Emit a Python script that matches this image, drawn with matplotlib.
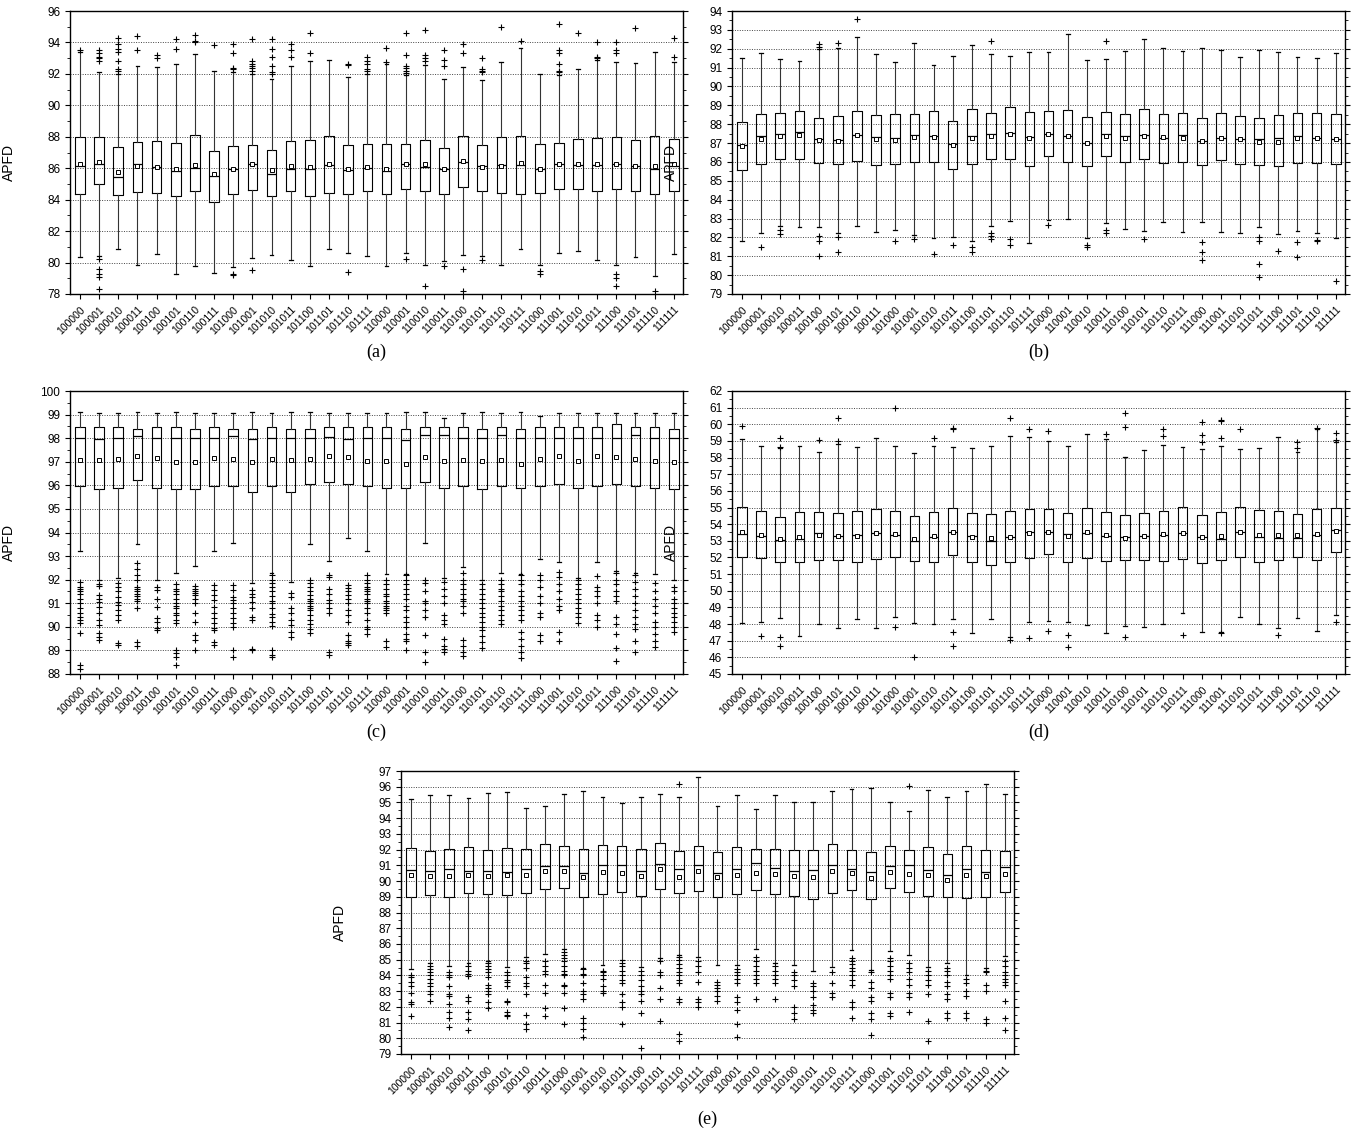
import matplotlib
matplotlib.use('Agg')
import matplotlib.pyplot as plt
from matplotlib.ticker import MultipleLocator

plt.rcParams['font.family'] = ['Liberation Sans', 'DejaVu Sans']

labels = ['100000', '100001', '100010', '100011', '100100', '100101', '100110', '100111',
          '101000', '101001', '101010', '101011', '101100', '101101', '101110', '101111',
          '110000', '110001', '110010', '110011', '110100', '110101', '110110', '110111',
          '111000', '111001', '111010', '111011', '111100', '111101', '111110', '111111']

# ---- panel (a)
a_q1 = [84.39, 84.97, 84.3, 84.47, 84.41, 84.22, 84.54, 83.83, 84.34, 84.6, 84.22, 84.56, 84.26, 84.43, 84.37, 84.56,
        84.35, 84.71, 84.54, 84.35, 84.8, 84.58, 84.42, 84.37, 84.44, 84.71, 84.65, 84.58, 84.71, 84.52, 84.37, 84.56]
a_med = [86.17, 86.3, 85.45, 86.26, 86.07, 85.81, 86.0, 85.5, 85.96, 86.3, 85.62, 85.92, 85.92, 86.2, 85.88, 86.0,
         85.83, 86.24, 86.07, 85.92, 86.4, 86.17, 86.21, 86.19, 85.96, 86.28, 86.21, 86.19, 86.26, 86.15, 85.94, 86.17]
a_mean = [86.24, 86.4, 85.77, 86.17, 86.09, 85.92, 86.22, 85.62, 85.94, 86.28, 85.86, 86.15, 86.09, 86.26, 85.96, 86.05,
          85.92, 86.24, 86.24, 85.92, 86.45, 86.05, 86.17, 86.36, 85.96, 86.3, 86.24, 86.24, 86.24, 86.17, 86.13, 86.24]
a_q3 = [87.99, 88.0, 87.34, 87.66, 87.74, 87.6, 88.1, 87.1, 87.44, 87.49, 87.17, 87.7, 87.78, 88.04, 87.49, 87.53,
        87.57, 87.55, 87.82, 87.27, 88.06, 87.47, 87.99, 88.08, 87.53, 87.61, 87.85, 87.93, 87.99, 87.78, 88.06, 87.89]
a_lo = [80.37, 80.43, 80.86, 79.87, 80.52, 79.29, 79.76, 79.31, 79.72, 80.26, 80.49, 80.15, 79.81, 80.84, 80.6, 80.39,
        79.76, 80.6, 79.86, 80.12, 80.46, 80.39, 79.82, 80.86, 79.82, 80.6, 80.75, 80.14, 79.86, 80.33, 79.16, 80.56]
a_hi = [93.4, 92.1, 92.0, 92.5, 92.46, 92.6, 93.25, 92.2, 92.1, 92.0, 91.7, 92.5, 92.8, 92.9, 91.8, 92.0,
        92.6, 91.9, 92.55, 91.66, 92.46, 91.62, 92.78, 93.63, 92.0, 91.93, 92.29, 92.89, 92.78, 92.72, 93.42, 92.78]
a_out = [[93.5], [93.5, 93.3, 93.1, 93.0, 92.8, 80.25, 79.6, 79.3, 79.05, 78.3],
         [92.2, 92.3, 92.8, 93.4, 93.6, 93.9, 94.3], [93.5, 94.4], [93.0, 93.2], [93.6, 94.25],
         [94.0, 94.1, 94.5], [93.85], [92.3, 92.4, 93.3, 93.9, 79.3, 79.2],
         [92.2, 92.4, 92.5, 92.6, 92.8, 94.2, 79.55], [92.0, 92.1, 92.5, 93.1, 93.6, 94.2],
         [93.1, 93.5, 93.9], [93.3, 94.6], [], [92.55, 92.6, 79.4], [92.2, 92.3, 92.6, 92.8, 93.1],
         [92.75, 93.65], [92.05, 92.2, 92.35, 92.5, 93.2, 94.6, 80.2], [92.8, 93.0, 93.2, 94.8, 78.5],
         [92.5, 92.9, 93.5, 79.75], [93.3, 93.9, 79.6, 78.2], [92.1, 92.2, 92.3, 93.0, 80.15],
         [95.0], [94.1], [79.45, 79.25], [92.1, 92.2, 92.6, 93.3, 93.5, 95.15], [94.6],
         [93.0, 93.1, 94.05], [93.3, 93.5, 94.05, 79.25, 79.0, 78.5], [94.95], [78.2], [93.1, 94.3]]

# ---- panel (b)
b_q1 = [85.57, 85.88, 86.18, 86.18, 85.94, 85.9, 86.04, 85.83, 85.88, 85.97, 86.0, 85.62, 85.9, 86.18, 86.18, 85.8,
        86.32, 86.02, 85.8, 86.29, 86.0, 86.15, 85.94, 86.02, 85.83, 86.09, 85.88, 85.83, 85.76, 85.95, 85.94, 85.87]
b_med = [86.89, 87.38, 87.47, 87.58, 87.2, 87.14, 87.44, 87.31, 87.28, 87.44, 87.38, 86.96, 87.4, 87.47, 87.52, 87.31,
         87.49, 87.4, 86.99, 87.47, 87.37, 87.42, 87.26, 87.44, 87.1, 87.28, 87.19, 87.19, 87.26, 87.38, 87.28, 87.19]
b_mean = [86.82, 87.2, 87.35, 87.44, 87.17, 87.12, 87.44, 87.2, 87.17, 87.31, 87.31, 86.92, 87.28, 87.38, 87.49, 87.28,
          87.49, 87.4, 86.99, 87.4, 87.29, 87.38, 87.31, 87.29, 87.1, 87.28, 87.19, 87.08, 87.08, 87.26, 87.28, 87.19]
b_q3 = [88.12, 88.55, 88.59, 88.69, 88.32, 88.44, 88.69, 88.51, 88.55, 88.53, 88.69, 88.19, 88.8, 88.58, 88.9, 88.67,
        88.72, 88.76, 88.37, 88.67, 88.55, 88.8, 88.53, 88.57, 88.35, 88.57, 88.41, 88.34, 88.49, 88.57, 88.6, 88.53]
b_lo = [81.79, 82.23, 82.62, 82.57, 82.57, 82.23, 82.62, 82.27, 82.41, 82.14, 81.98, 82.02, 81.82, 82.6, 82.85, 81.7,
        82.94, 82.97, 81.95, 82.76, 82.44, 82.35, 82.79, 82.28, 82.79, 82.28, 82.23, 82.53, 82.18, 82.34, 82.21, 81.95]
b_hi = [91.53, 91.8, 91.46, 91.35, 92.0, 92.02, 92.6, 91.71, 91.32, 92.29, 91.14, 91.64, 92.18, 91.71, 91.62, 91.85,
        91.81, 92.76, 91.39, 91.46, 91.88, 92.52, 92.06, 91.9, 92.02, 91.94, 91.58, 91.94, 91.81, 91.58, 91.53, 91.76]
b_out = [[], [81.49], [82.4, 82.18], [], [92.1, 92.24, 82.05, 81.79, 81.0], [92.32, 82.02, 81.2], [93.56], [],
         [81.79], [81.91], [81.1], [81.61], [81.47, 81.2], [92.43, 82.23, 82.05, 81.91], [81.91, 81.58], [],
         [82.67], [], [81.61, 81.49], [92.43, 82.37, 82.23], [], [81.91], [], [],
         [81.77, 81.22, 80.78], [], [], [82.02, 81.81, 80.59, 79.9], [81.28], [81.75, 80.98], [81.88, 81.79], [79.67]]

# ---- panel (c)
c_q1 = [95.97, 95.83, 95.9, 96.23, 95.9, 95.83, 95.83, 95.97, 95.97, 95.73, 95.97, 95.73, 96.07, 96.14, 96.07, 95.97,
        95.9, 95.9, 96.14, 95.9, 95.97, 95.83, 95.97, 95.9, 95.97, 96.07, 95.9, 95.97, 96.07, 95.97, 95.9, 95.83]
c_med = [98.0, 97.98, 98.0, 98.1, 98.0, 98.0, 98.0, 98.0, 98.1, 97.95, 98.0, 98.0, 98.0, 98.06, 97.95, 98.0,
         98.0, 97.92, 98.12, 98.12, 98.0, 98.0, 98.12, 98.0, 98.0, 98.0, 98.0, 98.0, 98.0, 98.12, 98.0, 98.0]
c_mean = [97.06, 97.07, 97.12, 97.24, 97.15, 97.0, 96.99, 97.17, 97.12, 97.0, 97.12, 97.07, 97.12, 97.24, 97.19, 97.05,
          97.05, 96.9, 97.19, 97.05, 97.07, 97.05, 97.07, 96.9, 97.13, 97.24, 97.05, 97.26, 97.19, 97.1, 97.05, 97.0]
c_q3 = [98.47, 98.47, 98.47, 98.37, 98.47, 98.47, 98.39, 98.47, 98.39, 98.39, 98.47, 98.39, 98.39, 98.47, 98.47, 98.47,
        98.47, 98.39, 98.47, 98.47, 98.47, 98.39, 98.47, 98.39, 98.47, 98.47, 98.47, 98.47, 98.6, 98.47, 98.47, 98.39]
c_lo = [93.2, 92.0, 92.05, 93.5, 92.0, 92.3, 92.6, 93.2, 93.55, 91.85, 92.3, 91.9, 93.5, 92.8, 93.75, 93.2,
        92.24, 92.24, 93.57, 92.06, 92.55, 92.0, 92.3, 92.24, 92.86, 92.75, 92.06, 92.76, 92.35, 92.3, 92.24, 92.0]
c_hi = [99.1, 99.05, 99.05, 99.12, 99.05, 99.1, 99.05, 99.05, 99.05, 99.12, 99.05, 99.12, 99.12, 99.05, 99.05, 99.05,
        99.05, 99.12, 99.12, 98.87, 99.05, 99.12, 99.05, 99.12, 98.95, 99.05, 99.05, 99.05, 99.05, 99.05, 99.05, 99.05]
c_out = [[91.9, 91.7, 91.6, 91.5, 91.4, 91.2, 91.0, 90.8, 90.6, 90.4, 90.3, 90.15, 89.72, 88.38, 88.2],
         [91.82, 91.75, 91.35, 91.2, 91.07, 90.86, 90.57, 90.29, 90.08, 89.72, 89.58, 89.44],
         [91.87, 91.7, 91.5, 91.28, 91.07, 90.93, 90.71, 90.5, 90.29, 89.3, 89.23],
         [92.7, 92.45, 92.2, 92.0, 91.7, 91.6, 91.5, 91.4, 91.3, 91.2, 91.1, 90.8, 89.35, 89.2],
         [91.7, 91.56, 91.2, 90.86, 90.36, 90.22, 89.94, 89.87],
         [91.8, 91.6, 91.5, 91.4, 91.2, 91.0, 90.9, 90.8, 90.6, 90.5, 90.3, 90.15, 89.0, 88.9, 88.7, 88.4],
         [91.75, 91.6, 91.5, 91.45, 91.35, 91.2, 91.0, 90.6, 90.2, 89.65, 89.45, 89.0],
         [91.77, 91.56, 91.35, 91.14, 90.86, 90.57, 90.36, 90.15, 89.94, 89.86, 89.37, 89.23],
         [91.77, 91.56, 91.28, 91.14, 91.0, 90.78, 90.57, 90.36, 90.15, 90.0, 89.02, 88.7],
         [91.56, 91.4, 91.28, 91.07, 90.78, 90.43, 90.29, 89.08, 89.0],
         [92.2, 92.0, 91.85, 91.7, 91.5, 91.3, 91.1, 91.0, 90.8, 90.55, 90.4, 90.2, 90.05, 89.0, 88.8, 88.7],
         [91.42, 91.28, 90.78, 90.57, 90.29, 90.08, 89.8, 89.58],
         [92.0, 91.85, 91.7, 91.5, 91.35, 91.2, 91.1, 91.0, 90.9, 90.8, 90.7, 90.5, 90.3, 90.1, 89.9, 89.75],
         [92.2, 92.1, 91.6, 91.4, 91.14, 91.0, 90.78, 90.57, 88.95, 88.8],
         [91.77, 91.65, 91.5, 91.35, 91.2, 91.0, 90.7, 90.5, 90.2, 89.65, 89.4, 89.3, 89.25],
         [92.2, 92.0, 91.85, 91.7, 91.6, 91.5, 91.4, 91.2, 91.1, 91.0, 90.8, 90.6, 90.3, 90.0, 89.9, 89.7],
         [92.0, 91.8, 91.6, 91.4, 91.3, 91.1, 91.0, 90.9, 90.8, 90.7, 90.6, 89.4, 89.13],
         [92.2, 92.0, 91.8, 91.6, 91.4, 91.2, 90.9, 90.7, 90.4, 90.2, 90.0, 89.7, 89.5, 89.4, 89.0],
         [91.99, 91.85, 91.5, 91.1, 91.0, 90.7, 90.4, 89.65, 88.95, 88.5],
         [91.9, 91.6, 91.3, 91.0, 90.5, 90.3, 90.1, 89.5, 89.2, 89.05, 88.95],
         [92.27, 92.0, 91.8, 91.6, 91.4, 91.2, 91.1, 90.9, 90.57, 89.45, 89.2, 88.95, 88.75],
         [91.8, 91.6, 91.4, 91.2, 91.0, 90.8, 90.6, 90.4, 90.2, 90.0, 89.85, 89.6, 89.35, 89.1],
         [92.0, 91.8, 91.6, 91.5, 91.3, 91.1, 90.9, 90.7, 90.5, 90.3, 90.1],
         [92.2, 92.0, 91.8, 91.5, 91.3, 91.1, 90.9, 90.7, 90.5, 90.3, 89.8, 89.5, 89.2, 88.95, 88.67],
         [92.2, 92.0, 91.7, 91.3, 91.0, 90.6, 90.4, 89.65, 89.4],
         [92.34, 92.1, 91.8, 91.5, 91.2, 90.9, 90.7, 89.8, 89.4],
         [91.99, 91.8, 91.6, 91.4, 91.2, 91.0, 90.8, 90.6, 90.4, 90.15],
         [92.15, 91.7, 91.5, 91.3, 91.0, 90.5, 90.3, 90.0],
         [92.3, 92.0, 91.8, 91.5, 91.3, 91.1, 90.4, 90.1, 89.7, 89.1, 88.55],
         [92.2, 91.9, 91.6, 91.3, 91.0, 90.7, 90.4, 90.1, 89.9, 89.4, 88.95],
         [91.84, 91.5, 91.2, 90.9, 90.6, 90.2, 90.0, 89.7, 89.4, 89.16],
         [91.7, 91.5, 91.2, 91.0, 90.8, 90.6, 90.4, 90.2, 90.0, 89.8]]

# ---- panel (d)
d_q1 = [52.0, 51.95, 51.7, 51.75, 51.85, 51.85, 51.75, 51.9, 52.0, 51.8, 51.75, 52.15, 51.75, 51.55, 51.75, 51.95,
        52.19, 51.75, 51.95, 51.81, 51.83, 51.85, 51.77, 51.93, 51.65, 51.83, 52.05, 51.73, 51.85, 52.03, 51.83, 52.33]
d_med = [53.4, 53.3, 53.05, 53.1, 53.45, 53.3, 53.35, 53.45, 53.35, 53.0, 53.25, 53.55, 53.3, 53.0, 53.25, 53.5,
         53.55, 53.41, 53.49, 53.29, 53.21, 53.31, 53.33, 53.47, 53.21, 53.11, 53.53, 53.21, 53.17, 53.15, 53.33, 53.63]
d_mean = [53.5, 53.35, 53.1, 53.25, 53.35, 53.3, 53.3, 53.45, 53.4, 53.1, 53.3, 53.5, 53.25, 53.15, 53.25, 53.45,
          53.55, 53.31, 53.52, 53.33, 53.15, 53.31, 53.39, 53.49, 53.21, 53.29, 53.53, 53.33, 53.33, 53.33, 53.41, 53.61]
d_q3 = [55.05, 54.8, 54.45, 54.75, 54.75, 54.65, 54.8, 54.9, 54.8, 54.5, 54.75, 55.0, 54.7, 54.6, 54.8, 54.92,
        54.91, 54.65, 54.97, 54.75, 54.53, 54.65, 54.79, 55.03, 54.53, 54.71, 55.01, 54.83, 54.77, 54.61, 54.93, 54.97]
d_lo = [48.05, 48.1, 48.35, 47.3, 48.0, 47.75, 48.3, 47.75, 48.45, 48.05, 48.0, 48.3, 47.45, 48.3, 47.2, 48.15,
        48.2, 48.1, 47.94, 47.48, 47.88, 47.84, 47.98, 48.68, 47.52, 47.5, 48.4, 48.0, 47.78, 48.38, 47.6, 48.54]
d_hi = [59.1, 58.7, 58.6, 58.7, 58.35, 58.8, 58.65, 59.2, 58.7, 58.3, 58.7, 58.65, 58.6, 58.7, 59.3, 59.26,
        59.0, 58.7, 59.4, 59.1, 58.06, 58.46, 58.76, 58.62, 58.52, 58.72, 58.54, 58.6, 59.26, 58.35, 59.7, 58.94]
d_out = [[59.9], [47.3], [59.15, 58.65, 47.2, 46.7], [], [59.05], [59.0, 60.4], [], [],
         [61.0, 47.8], [46.0], [59.2], [59.7, 59.75, 47.5, 46.7], [], [], [60.4, 47.05], [59.7, 47.15],
         [59.6, 47.6], [47.32, 46.64], [], [59.4], [59.82, 60.66, 47.2], [], [59.3, 59.7], [47.32],
         [58.94, 59.34, 60.14], [59.16, 60.2, 60.25, 47.45], [59.7], [], [47.34], [58.6, 58.96], [59.8],
         [59.06, 59.46, 48.1]]

# ---- panel (e)
e_q1 = [89.0, 89.09, 89.0, 89.22, 89.15, 89.09, 89.24, 89.49, 89.58, 89.0, 89.2, 89.3, 89.03, 89.47, 89.24, 89.36,
        88.96, 89.15, 89.41, 89.15, 89.05, 88.86, 89.26, 89.45, 88.86, 89.58, 89.32, 89.07, 88.96, 88.9, 89.0, 89.3]
e_med = [90.7, 90.65, 90.78, 90.63, 90.65, 90.55, 90.74, 90.97, 90.97, 90.49, 91.01, 91.01, 90.63, 91.06, 90.74, 91.01,
         90.51, 90.78, 91.12, 90.8, 90.63, 90.7, 91.01, 90.74, 90.57, 90.93, 90.99, 90.7, 90.38, 90.74, 90.55, 90.87]
e_mean = [90.4, 90.3, 90.3, 90.4, 90.32, 90.4, 90.4, 90.61, 90.61, 90.23, 90.55, 90.5, 90.32, 90.78, 90.28, 90.61,
          90.25, 90.36, 90.53, 90.44, 90.32, 90.25, 90.61, 90.53, 90.19, 90.59, 90.42, 90.4, 90.08, 90.4, 90.34, 90.42]
e_q3 = [92.11, 91.94, 92.03, 92.18, 91.97, 92.11, 92.03, 92.33, 92.24, 92.03, 92.28, 92.2, 92.03, 92.45, 91.94, 92.24,
        91.82, 92.16, 92.07, 92.07, 91.99, 91.99, 92.33, 91.99, 91.86, 92.24, 91.97, 92.14, 91.73, 92.24, 91.99, 91.94]
e_lo = [84.42, 84.78, 84.58, 84.78, 84.94, 84.52, 85.15, 85.35, 85.7, 84.5, 84.67, 84.99, 84.54, 85.1, 85.3, 85.2,
        84.67, 84.63, 85.66, 84.78, 84.63, 84.31, 84.56, 85.62, 84.35, 85.56, 85.3, 84.52, 84.78, 84.04, 84.5, 85.26]
e_hi = [95.24, 95.46, 95.46, 95.29, 95.6, 95.67, 94.67, 94.78, 95.56, 95.75, 95.35, 94.99, 95.35, 95.52, 95.35, 96.62,
        94.78, 95.46, 94.61, 95.46, 95.03, 95.03, 95.73, 95.88, 95.94, 95.03, 94.46, 95.82, 95.35, 95.71, 96.2, 95.52]
e_out = [[84.0, 83.9, 83.6, 83.3, 82.9, 82.3, 82.2, 81.4],
         [84.6, 84.4, 84.2, 84.0, 83.8, 83.5, 83.3, 83.0, 82.8, 82.4],
         [84.2, 84.0, 83.9, 83.3, 82.8, 82.7, 82.2, 81.7, 81.3, 80.7],
         [84.6, 84.3, 84.1, 83.95, 82.6, 82.4, 81.7, 81.25, 80.55],
         [84.8, 84.6, 84.4, 84.2, 83.9, 83.4, 83.2, 83.0, 82.8, 82.3, 81.95],
         [84.2, 84.0, 83.7, 83.6, 83.3, 82.4, 82.3, 81.7, 81.5, 81.4],
         [84.9, 84.8, 84.5, 83.9, 83.5, 83.3, 82.8, 81.5, 80.9, 80.6],
         [84.9, 84.6, 84.3, 84.1, 83.4, 82.9, 81.9, 81.4],
         [85.5, 85.3, 85.1, 84.9, 84.6, 84.3, 84.1, 84.0, 83.4, 83.3, 82.9, 81.9, 80.9],
         [84.4, 84.1, 84.0, 83.5, 83.0, 82.8, 82.5, 81.3, 81.0, 80.6, 80.1],
         [84.3, 84.2, 84.0, 83.8, 83.3, 83.0, 82.9],
         [84.8, 84.6, 84.3, 84.0, 83.7, 83.5, 82.8, 82.3, 82.0, 80.9],
         [84.3, 84.0, 83.7, 83.3, 83.0, 82.8, 82.4, 81.6, 79.4],
         [84.9, 84.2, 84.0, 83.2, 82.5, 81.1],
         [96.2, 85.2, 85.0, 84.7, 84.5, 84.2, 84.0, 83.7, 83.5, 82.5, 82.3, 80.3, 79.8],
         [84.9, 84.6, 84.2, 83.6, 82.5, 82.3, 82.0],
         [83.6, 83.4, 83.2, 83.0, 82.7, 82.4],
         [84.4, 84.2, 84.0, 83.8, 83.5, 82.6, 82.3, 81.8, 80.9, 80.1],
         [85.2, 84.9, 84.6, 84.3, 84.0, 83.8, 83.5, 82.5],
         [84.6, 84.3, 84.0, 83.8, 83.5, 82.5],
         [84.2, 84.0, 83.7, 83.3, 82.0, 81.6, 81.2],
         [83.5, 83.3, 83.0, 82.6, 82.1, 81.8, 81.6],
         [84.2, 83.5, 82.9, 82.6],
         [85.1, 84.9, 84.7, 84.5, 84.3, 84.0, 83.7, 83.4, 82.3, 82.0, 81.3],
         [84.2, 83.6, 83.2, 82.6, 82.4, 81.6, 81.2, 80.2],
         [85.1, 84.9, 84.6, 84.3, 84.0, 83.8, 82.9, 82.6, 81.6, 81.4],
         [96.03, 84.8, 84.5, 84.2, 83.8, 83.4, 82.9, 82.6, 81.7],
         [84.3, 84.0, 83.7, 83.4, 82.8, 81.1, 79.8],
         [84.5, 84.3, 84.0, 83.6, 83.3, 82.8, 82.5, 81.6, 81.3],
         [83.8, 83.5, 83.0, 82.7, 81.6, 81.3],
         [84.3, 84.2, 83.4, 83.0, 81.2, 81.0],
         [84.9, 84.6, 84.2, 84.0, 83.8, 83.6, 83.4, 82.4, 81.3, 80.5]]


def panel(ax, q1, med, q3, mean, lo, hi, out, ylim, major, minor):
    stats = []
    for i in range(len(labels)):
        stats.append(dict(q1=q1[i], med=med[i], q3=q3[i], mean=mean[i],
                          whislo=lo[i], whishi=hi[i], fliers=out[i], label=labels[i]))
    pos = list(range(1, len(labels) + 1))
    ax.bxp(stats, positions=pos, widths=0.5, showmeans=True, capwidths=0.2,
           boxprops=dict(color='black', linewidth=0.8),
           whiskerprops=dict(color='#333333', linewidth=0.8),
           capprops=dict(color='black', linewidth=0.9),
           medianprops=dict(color='black', linewidth=0.9),
           meanprops=dict(marker='s', markerfacecolor='white', markeredgecolor='black',
                          markersize=3, markeredgewidth=0.7),
           flierprops=dict(marker='+', markeredgecolor='black', markersize=4, markeredgewidth=0.8))
    ax.set_xlim(0.48, 32.48)
    ax.set_ylim(*ylim)
    ax.yaxis.set_major_locator(MultipleLocator(major))
    ax.yaxis.set_minor_locator(MultipleLocator(minor))
    ax.yaxis.grid(True, which='major', linestyle=(0, (1, 1.5)), color='#444444', linewidth=0.7)
    ax.set_axisbelow(True)
    ax.set_xticks(pos)
    ax.set_xticklabels(labels, rotation=45, ha='right', va='top', rotation_mode='anchor', fontsize=7.5)
    ax.tick_params(axis='x', direction='out', length=3.5, width=0.8, pad=4)
    ax.tick_params(axis='y', which='major', direction='out', length=3.5, width=0.8, labelsize=8.5, right=True)
    ax.tick_params(axis='y', which='minor', direction='out', length=2, width=0.6, right=True)
    for s in ax.spines.values():
        s.set_linewidth(1.0)
    ax.set_ylabel('APFD', fontsize=10)
    ax.yaxis.set_label_coords(-0.088, 0.465)


fig = plt.figure(figsize=(13.61, 11.34), dpi=100)
W, H = 1361.0, 1134.0
w = 613 / W
h = 283 / H
ax_a = fig.add_axes([70 / W, 1 - 294 / H, w, h])
ax_b = fig.add_axes([732 / W, 1 - 294 / H, w, h])
ax_c = fig.add_axes([70 / W, 1 - 674 / H, w, h])
ax_d = fig.add_axes([732 / W, 1 - 674 / H, w, h])
ax_e = fig.add_axes([401 / W, 1 - 1054 / H, w, h])

panel(ax_a, a_q1, a_med, a_q3, a_mean, a_lo, a_hi, a_out, (78, 96), 2, 1)
panel(ax_b, b_q1, b_med, b_q3, b_mean, b_lo, b_hi, b_out, (79, 94), 1, 0.5)
panel(ax_c, c_q1, c_med, c_q3, c_mean, c_lo, c_hi, c_out, (88, 100), 1, 0.5)
panel(ax_d, d_q1, d_med, d_q3, d_mean, d_lo, d_hi, d_out, (45, 62), 1, 0.5)
panel(ax_e, e_q1, e_med, e_q3, e_mean, e_lo, e_hi, e_out, (79, 97), 1, 0.5)

for ax, tag, yoff in [(ax_a, '(a)', -0.205), (ax_b, '(b)', -0.205), (ax_c, '(c)', -0.205),
                      (ax_d, '(d)', -0.205), (ax_e, '(e)', -0.232)]:
    ax.text(0.5, yoff, tag, transform=ax.transAxes, ha='center', va='center',
            fontsize=13, family=['Liberation Serif', 'DejaVu Serif'])

fig.savefig('out.png', dpi=100)
